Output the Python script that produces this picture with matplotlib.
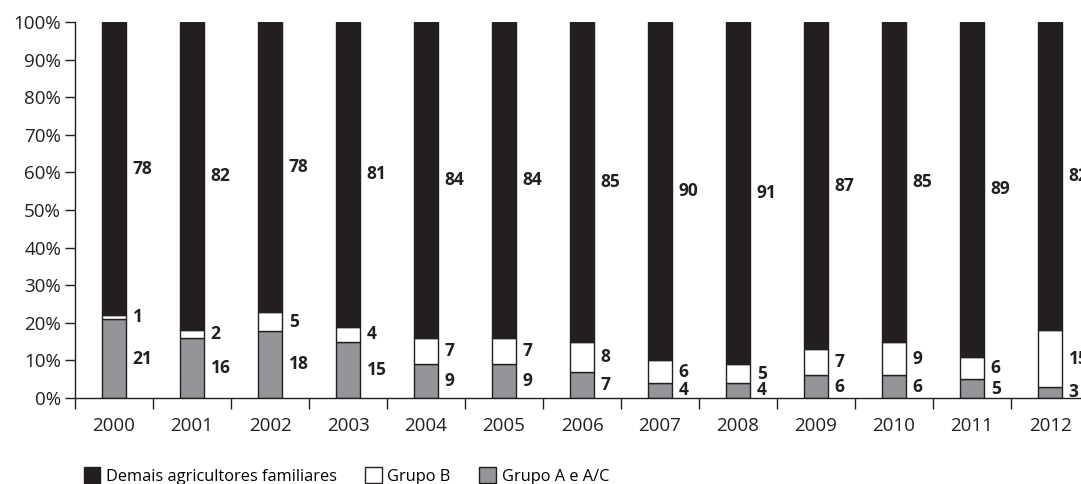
import numpy as np
import matplotlib
matplotlib.use("Agg")
import matplotlib.pyplot as plt
from matplotlib.patches import Patch
from matplotlib.ticker import FixedLocator, PercentFormatter

years = ["2000", "2001", "2002", "2003", "2004", "2005", "2006",
         "2007", "2008", "2009", "2010", "2011", "2012"]
grupo_a = [21, 16, 18, 15, 9, 9, 7, 4, 4, 6, 6, 5, 3]
grupo_b = [1, 2, 5, 4, 7, 7, 8, 6, 5, 7, 9, 6, 15]
demais = [78, 82, 78, 81, 84, 84, 85, 90, 91, 87, 85, 89, 82]

BLACK = "#231f20"
GREY = "#939598"

plt.rcParams["font.family"] = ["Open Sans", "DejaVu Sans"]

fig = plt.figure(figsize=(10.81, 4.84), dpi=100)
ax = fig.add_axes([75 / 1081, 86 / 484, 1014 / 1081, 376 / 484])

x = np.arange(len(years))
w = 0.31
a = np.array(grupo_a) / 100
b = np.array(grupo_b) / 100
d = np.array(demais) / 100
# normalise each bar to 100%
tot = a + b + d
a_n, b_n, d_n = a / tot, b / tot, d / tot

ax.bar(x, a_n, w, color=GREY, edgecolor=BLACK, linewidth=1)
ax.bar(x, b_n, w, bottom=a_n, color="white", edgecolor=BLACK, linewidth=1)
ax.bar(x, d_n, w, bottom=a_n + b_n, color=BLACK, edgecolor=BLACK, linewidth=1)

lx = x + w / 2 + 0.085
for i in range(len(years)):
    kw = dict(ha="left", va="center", fontsize=12.5, fontweight="bold", color=BLACK)
    ax.text(lx[i], a_n[i] / 2, str(grupo_a[i]), **kw)
    ax.text(lx[i], a_n[i] + b_n[i] / 2, str(grupo_b[i]), **kw)
    ax.text(lx[i], a_n[i] + b_n[i] + d_n[i] / 2, str(demais[i]), **kw)

ax.set_xlim(-0.5, len(years) - 0.5)
ax.set_ylim(0, 1)
ax.set_yticks(np.arange(0, 1.01, 0.1))
ax.yaxis.set_major_formatter(PercentFormatter(1.0, decimals=0))

# category boundary ticks, labels in the middle
ax.xaxis.set_major_locator(FixedLocator(np.arange(-0.5, len(years), 1.0)))
ax.xaxis.set_minor_locator(FixedLocator(x))
ax.set_xticklabels([])
ax.set_xticklabels(years, minor=True)
ax.tick_params(axis="x", which="major", length=8, width=1, color=BLACK)
ax.tick_params(axis="x", which="minor", length=0, pad=14, labelsize=13.5,
               labelcolor=BLACK)
ax.tick_params(axis="y", length=7, width=1, color=BLACK, labelsize=13.5,
               labelcolor=BLACK, pad=3)

for side in ["top", "right"]:
    ax.spines[side].set_visible(False)
for side in ["left", "bottom"]:
    ax.spines[side].set_color(BLACK)
    ax.spines[side].set_linewidth(1)

handles = [
    Patch(facecolor=BLACK, edgecolor=BLACK, label="Demais agricultores familiares"),
    Patch(facecolor="white", edgecolor=BLACK, label="Grupo B"),
    Patch(facecolor=GREY, edgecolor=BLACK, label="Grupo A e A/C"),
]
fig.legend(handles=handles, loc="center left", bbox_to_anchor=(77 / 1081, 8 / 484),
           ncol=3, frameon=False, fontsize=11.8, handlelength=1.0, handleheight=1.05,
           handletextpad=0.35, columnspacing=1.75, borderaxespad=0)

fig.savefig("out.png", dpi=100)
